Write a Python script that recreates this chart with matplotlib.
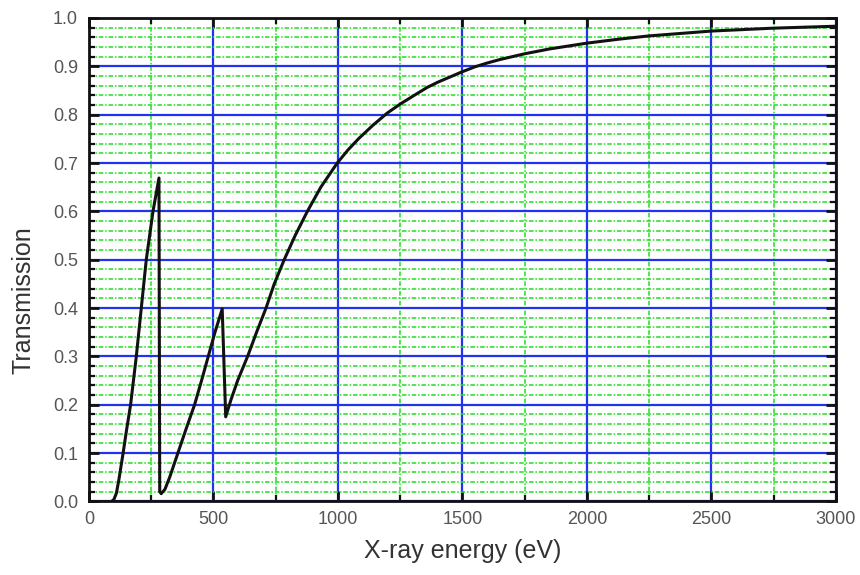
import matplotlib
matplotlib.use("Agg")
import matplotlib.pyplot as plt
from matplotlib.ticker import MultipleLocator

energy_ev = [91, 100, 110, 120, 137, 150, 167, 190, 210, 230, 257, 281,
             284, 290, 305, 324, 357, 390, 424, 452, 479, 506, 535,
             549, 570, 597, 637, 673, 711, 744, 784, 828, 877, 931, 997,
             1040, 1084, 1140, 1197, 1250, 1300, 1357, 1400, 1450, 1500, 1550,
             1600, 1650, 1700, 1750, 1800, 1850, 1900, 2000, 2125,
             2250, 2375, 2500, 2625, 2750, 2875, 3000]
transmission = [0.0, 0.004, 0.017, 0.045, 0.10, 0.145, 0.20, 0.30, 0.40, 0.50,
                0.60, 0.669,
                0.02, 0.016, 0.025, 0.05, 0.10, 0.15, 0.20, 0.25, 0.30, 0.35, 0.398,
                0.175, 0.21, 0.25, 0.30, 0.35, 0.40, 0.45, 0.50, 0.55, 0.60, 0.65, 0.70,
                0.727, 0.751, 0.778, 0.803, 0.822, 0.838, 0.856, 0.867, 0.878, 0.889, 0.899,
                0.907, 0.914, 0.920, 0.926, 0.931, 0.936, 0.940, 0.948, 0.956,
                0.963, 0.968, 0.973, 0.976, 0.979, 0.981, 0.983]

x_ticks = [0, 500, 1000, 1500, 2000, 2500, 3000]
y_ticks = [0.0, 0.1, 0.2, 0.3, 0.4, 0.5, 0.6, 0.7, 0.8, 0.9, 1.0]

plt.rcParams['font.family'] = ['Liberation Sans', 'DejaVu Sans']

fig = plt.figure(figsize=(8.6, 5.75), dpi=100)
ax = fig.add_axes([0.1035, 0.128, 0.8685, 0.8407])

ax.set_xlim(0, 3000)
ax.set_ylim(0, 1.0)
ax.xaxis.set_minor_locator(MultipleLocator(250))
ax.yaxis.set_minor_locator(MultipleLocator(0.02))
ax.set_xticks(x_ticks)
ax.set_xticklabels([str(v) for v in x_ticks])
ax.set_yticks(y_ticks)
ax.set_yticklabels([f"{v:.1f}" for v in y_ticks])

ax.grid(which='minor', color='#22dd22', linestyle=(0, (3, 1.2, 1, 1.2)), linewidth=1.1)
ax.grid(which='major', color='#2233ee', linestyle='-', linewidth=1.6)
ax.set_axisbelow(True)

ax.plot(energy_ev, transmission, color='#111111', linewidth=2.2, zorder=3,
        solid_joinstyle='round')

for s in ax.spines.values():
    s.set_linewidth(2.0)
    s.set_color('#111111')

ax.tick_params(which='both', direction='in', top=True, right=True, color='#111111')
ax.tick_params(which='major', length=7, width=2.0, labelsize=13, labelcolor='#555555')
ax.tick_params(axis='y', which='major', pad=8)
ax.tick_params(axis='x', which='major', pad=7)
ax.tick_params(which='minor', length=4, width=1.6)

ax.set_xlabel('X-ray energy (eV)', fontsize=18, color='#333333', labelpad=8)
fig.text(0.027, 0.478, 'Transmission', rotation=90, ha='center', va='center',
         fontsize=18, color='#333333')

fig.savefig('out.png', dpi=100)
